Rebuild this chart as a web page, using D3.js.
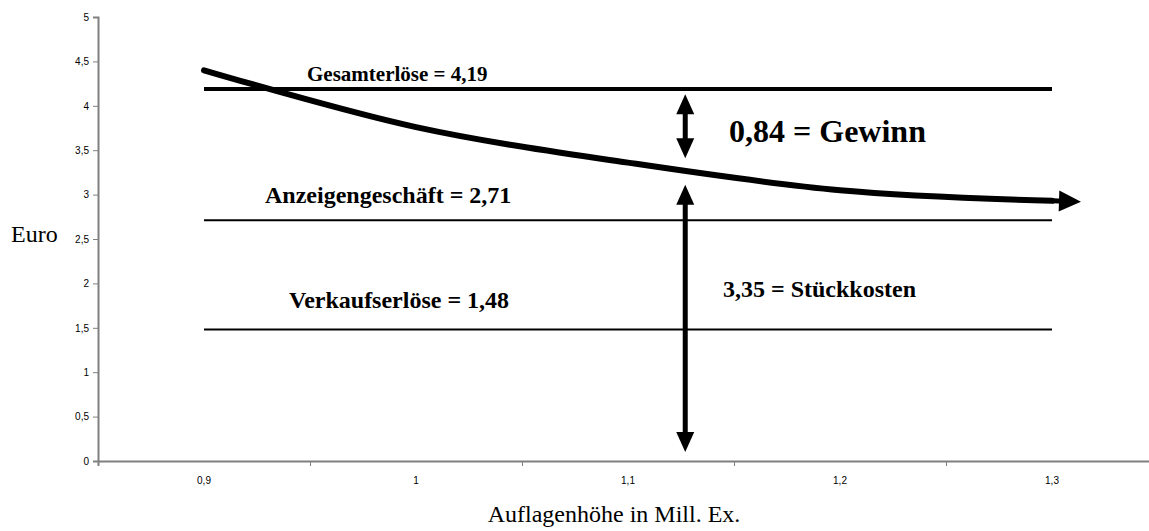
<!DOCTYPE html>
<html><head><meta charset="utf-8">
<script src="https://cdn.jsdelivr.net/npm/d3@7"></script>
<style>
body{margin:0;background:#fff;}
svg{display:block;}
</style></head>
<body>
<svg id="chart" width="1149" height="531"></svg>
<script>
// ---- data ----
const categories = [0.9, 1.0, 1.1, 1.2, 1.3];
const stueckkosten = [4.40, 3.76, 3.36, 3.05, 2.93];
const levels = [
  {name: "Gesamterlöse = 4,19", value: 4.19},
  {name: "Anzeigengeschäft = 2,71", value: 2.71},
  {name: "Verkaufserlöse = 1,48", value: 1.48}
];
const yTicks = [0, 0.5, 1, 1.5, 2, 2.5, 3, 3.5, 4, 4.5, 5];
const xBoundaries = [0.85, 0.95, 1.05, 1.15, 1.25, 1.35];
const gewinnArrow = {x: 1.127, from: 4.13, to: 3.41, label: "0,84 = Gewinn"};
const kostenArrow = {x: 1.127, from: 3.11, to: 0.10, label: "3,35 = Stückkosten"};

const svg = d3.select("#chart");
const x = d3.scaleLinear().domain([0.85, 1.35]).range([98, 1158]);
const y = d3.scaleLinear().domain([0, 5]).range([461, 17]);
const fmt = v => String(v).replace(".", ",");
const serif = "'Liberation Serif','Times New Roman',serif";
const sans = "'Liberation Sans',Arial,sans-serif";

// y axis
const ya = svg.append("g").attr("transform", "translate(98,0)")
  .call(d3.axisLeft(y).tickValues(yTicks).tickSize(5).tickPadding(4).tickFormat(fmt));
ya.select(".domain").attr("stroke", "#808080").attr("stroke-width", 2);
ya.selectAll(".tick line").attr("stroke", "#808080");
ya.selectAll(".tick text").attr("font-family", sans).attr("font-size", 10).attr("fill", "#000");

// x axis (tick marks at category boundaries)
const xa = svg.append("g").attr("transform", "translate(0,461)")
  .call(d3.axisBottom(x).tickValues(xBoundaries).tickSize(5).tickFormat(""));
xa.select(".domain").attr("stroke", "#808080").attr("stroke-width", 2);
xa.selectAll(".tick line").attr("stroke", "#808080");
svg.append("g").selectAll("text").data(categories).join("text")
  .attr("x", d => x(d)).attr("y", 484)
  .attr("text-anchor", "middle").attr("font-family", sans).attr("font-size", 10)
  .text(fmt);

// axis titles
svg.append("text").attr("x", 11).attr("y", 242).attr("font-family", serif)
  .attr("font-size", 24).text("Euro");
svg.append("text").attr("x", 614).attr("y", 522).attr("text-anchor", "middle")
  .attr("font-family", serif).attr("font-size", 24).text("Auflagenhöhe in Mill. Ex.");

// horizontal level lines
const lw = [4, 2, 2];
svg.append("g").selectAll("line").data(levels).join("line")
  .attr("x1", x(categories[0])).attr("x2", x(categories[categories.length - 1]))
  .attr("y1", d => y(d.value)).attr("y2", d => y(d.value))
  .attr("stroke", "#000").attr("stroke-width", (d, i) => lw[i]);

const labelPos = [{x: 307, y: 81, s: 21}, {x: 265, y: 203, s: 24}, {x: 289, y: 308, s: 24}];
svg.append("g").selectAll("text").data(levels).join("text")
  .attr("x", (d, i) => labelPos[i].x).attr("y", (d, i) => labelPos[i].y)
  .attr("font-family", serif).attr("font-weight", "bold").attr("font-size", (d, i) => labelPos[i].s)
  .text(d => d.name);

// cost curve with arrow
const defs = svg.append("defs");
defs.append("marker").attr("id", "head").attr("markerUnits", "userSpaceOnUse")
  .attr("markerWidth", 40).attr("markerHeight", 30).attr("viewBox", "-10 -15 40 30")
  .attr("refX", 0).attr("refY", 0).attr("orient", "auto")
  .append("path").attr("d", "M0,-2.5 L7,-2.5 L7,-10.5 L29,0 L7,10.5 L7,2.5 L0,2.5 Z").attr("fill", "#000");

const line = d3.line().x((d, i) => x(categories[i])).y(d => y(d)).curve(d3.curveCatmullRom.alpha(0.5));
svg.append("path").datum(stueckkosten).attr("d", line)
  .attr("fill", "none").attr("stroke", "#000").attr("stroke-width", 6)
  .attr("stroke-linecap", "round").attr("marker-end", "url(#head)");

// double-headed arrows
function doubleArrow(a) {
  const g = svg.append("g");
  const cx = x(a.x), yt = y(a.from), yb = y(a.to);
  const hl = 20, hw = 9;
  g.append("line").attr("x1", cx).attr("x2", cx).attr("y1", yt + hl - 1).attr("y2", yb - hl + 1)
    .attr("stroke", "#000").attr("stroke-width", 5);
  g.append("path").attr("d", `M${cx},${yt} L${cx + hw},${yt + hl} L${cx - hw},${yt + hl} Z`).attr("fill", "#000");
  g.append("path").attr("d", `M${cx},${yb} L${cx + hw},${yb - hl} L${cx - hw},${yb - hl} Z`).attr("fill", "#000");
}
doubleArrow(gewinnArrow);
doubleArrow(kostenArrow);

svg.append("text").attr("x", 729).attr("y", 142).attr("font-family", serif)
  .attr("font-weight", "bold").attr("font-size", 32).text(gewinnArrow.label);
svg.append("text").attr("x", 723).attr("y", 297).attr("font-family", serif)
  .attr("font-weight", "bold").attr("font-size", 24).text(kostenArrow.label);
</script>
</body></html>
